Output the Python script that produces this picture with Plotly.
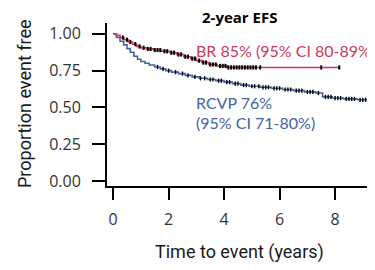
import numpy as np
import plotly.graph_objects as go

# ---- data ----
br_time = [0, 0.12, 0.25, 0.4, 0.55, 0.7, 0.85, 1.0, 1.2, 1.45, 1.75, 2.05, 2.3, 2.55, 2.8, 3.0, 3.2, 3.45, 3.75, 4.1, 8.15]
br_surv = [1.0, 0.99, 0.975, 0.96, 0.945, 0.93, 0.915, 0.905, 0.898, 0.89, 0.882, 0.872, 0.86, 0.845, 0.832, 0.818, 0.805, 0.792, 0.782, 0.772, 0.772]
br_censor = [0.35, 0.5, 0.62, 0.8, 0.95, 1.1, 1.25, 1.35, 1.5, 1.6, 1.7, 1.85, 1.95, 2.1, 2.2, 2.35, 2.45, 2.6,
             2.7, 2.85, 2.95, 3.1, 3.25, 3.35, 3.5, 3.6, 3.7, 3.85, 3.95, 4.05, 4.15, 4.25, 4.35, 4.45, 4.55,
             4.65, 4.75, 4.85, 4.95, 5.05, 5.15, 5.3, 7.5, 8.15]

rcvp_time = [0, 0.12, 0.25, 0.38, 0.5, 0.62, 0.75, 0.88, 1.0, 1.15, 1.3, 1.5, 1.7, 1.9, 2.1, 2.35, 2.6, 2.85,
             3.1, 3.4, 3.7, 4.0, 4.3, 4.6, 4.9, 5.3, 5.7, 6.1, 6.5, 6.9, 7.3, 7.55, 7.9, 8.3, 8.8, 9.2, 9.35]
rcvp_surv = [1.0, 0.975, 0.95, 0.925, 0.9, 0.875, 0.848, 0.828, 0.812, 0.8, 0.788, 0.775, 0.762, 0.75, 0.74,
             0.73, 0.718, 0.708, 0.698, 0.69, 0.682, 0.672, 0.662, 0.652, 0.644, 0.637, 0.63, 0.622, 0.614,
             0.606, 0.598, 0.572, 0.564, 0.558, 0.552, 0.547, 0.547]
rcvp_censor = [1.6, 1.8, 2.0, 2.25, 2.5, 2.7, 2.95, 3.15, 3.3, 3.5, 3.6, 3.8, 3.9, 4.1, 4.2, 4.4, 4.5, 4.7, 4.8,
               5.0, 5.1, 5.25, 5.4, 5.5, 5.6, 5.8, 5.9, 6.0, 6.2, 6.3, 6.4, 6.6, 6.7, 6.8, 7.0, 7.1, 7.2, 7.4,
               7.65, 7.75, 7.85, 8.0, 8.1, 8.2, 8.4, 8.5, 8.6, 8.7, 8.9, 9.0, 9.1, 9.25]

x_ticks = [0, 2, 4, 6, 8]
y_ticks = [0.0, 0.25, 0.5, 0.75, 1.0]
y_ticktext = ["0.00", "0.25", "0.50", "0.75", "1.00"]

title_text = "<b>2-year EFS</b>"
br_label = "BR 85% (95% CI 80-89%)"
rcvp_label1 = "RCVP 76%"
rcvp_label2 = "(95% CI 71-80%)"

RED = "#cc3a58"
BLUE = "#4563a0"


def step_lookup(times, surv, pts):
    idx = np.searchsorted(np.array(times), np.array(pts), side="right") - 1
    return [surv[i] for i in idx]


fig = go.Figure()
fig.add_trace(go.Scatter(x=rcvp_time, y=rcvp_surv, mode="lines", line=dict(color=BLUE, width=1.6, shape="hv"),
                         showlegend=False, hoverinfo="skip"))
fig.add_trace(go.Scatter(x=br_time, y=br_surv, mode="lines", line=dict(color=RED, width=1.6, shape="hv"),
                         showlegend=False, hoverinfo="skip"))
fig.add_trace(go.Scatter(x=rcvp_censor, y=step_lookup(rcvp_time, rcvp_surv, rcvp_censor), mode="markers",
                         marker=dict(symbol="line-ns", size=3, line=dict(color="black", width=1.4)),
                         showlegend=False, hoverinfo="skip"))
fig.add_trace(go.Scatter(x=br_censor, y=step_lookup(br_time, br_surv, br_censor), mode="markers",
                         marker=dict(symbol="line-ns", size=3, line=dict(color="black", width=2)),
                         showlegend=False, hoverinfo="skip"))

# page has an 8px body margin: work in viewport pixels, convert to figure pixels
OFF = 8
W, H = 375 - OFF, 270 - OFF
L = 107 - OFF
T = 23 - OFF
R = W - (372 - OFF)
B = H - (186 - OFF)
pw, ph = W - L - R, H - T - B


def px(xp):
    return (xp - OFF - L) / pw


def py(yp):
    return (H - B - (yp - OFF)) / ph


AX_FONT = "Roboto"

fig.update_layout(
    width=W, height=H,
    margin=dict(l=L, r=R, t=T, b=B, pad=0),
    paper_bgcolor="white",
    plot_bgcolor="white",
    showlegend=False,
    xaxis=dict(range=[-0.22, 9.33], showline=True, linecolor="black", linewidth=2, ticks="outside",
               ticklen=12, tickwidth=2, tickcolor="black", tickvals=x_ticks, showgrid=False, zeroline=False,
               tickfont=dict(family="Open Sans", size=16, color="#333333"), ticklabelstandoff=6),
    yaxis=dict(range=[-0.034, 1.074], showline=True, linecolor="black", linewidth=2, ticks="outside",
               ticklen=13, tickwidth=2, tickcolor="black", tickvals=y_ticks, ticktext=y_ticktext,
               showgrid=False, zeroline=False,
               tickfont=dict(family="Open Sans", size=16, color="#333333"), ticklabelstandoff=8),
    annotations=[
        dict(text=title_text, xref="paper", yref="paper", x=px(239), y=py(17), showarrow=False,
             font=dict(family="Open Sans", size=15, color="black"), xanchor="center", yanchor="middle"),
        dict(text="Proportion event free", xref="paper", yref="paper", x=px(24), y=py(104), showarrow=False,
             textangle=-90, font=dict(family=AX_FONT, size=18, color="#1a1a1a"),
             xanchor="center", yanchor="middle"),
        dict(text="Time to event (years)", xref="paper", yref="paper", x=px(239), y=py(252), showarrow=False,
             font=dict(family=AX_FONT, size=18, color="#1a1a1a"),
             xanchor="center", yanchor="middle"),
        dict(text=br_label, xref="x", yref="paper", x=2.92, y=py(50), showarrow=False, xanchor="left",
             yanchor="middle", font=dict(family="Lato", size=16, color=RED)),
        dict(text=rcvp_label1, xref="x", yref="paper", x=2.92, y=py(102), showarrow=False, xanchor="left",
             yanchor="middle", font=dict(family="Lato", size=16, color=BLUE)),
        dict(text=rcvp_label2, xref="x", yref="paper", x=2.92, y=py(122), showarrow=False, xanchor="left",
             yanchor="middle", font=dict(family="Lato", size=16, color=BLUE)),
    ],
)

fig.write_html("out.html")
